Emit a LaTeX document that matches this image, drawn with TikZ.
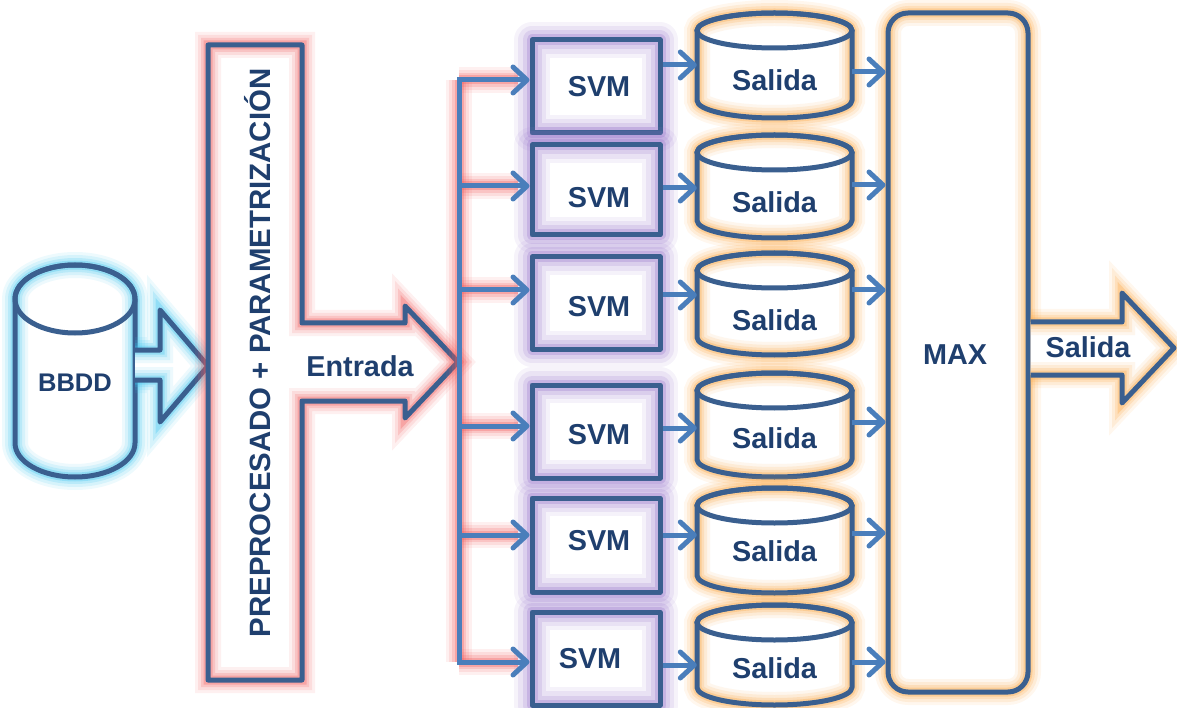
\documentclass[tikz,border=0pt]{standalone}
\usepackage{fontspec}
\setmainfont{Liberation Sans}
\usetikzlibrary{arrows.meta}

\definecolor{frame}{HTML}{3A5F8F}
\definecolor{wire}{HTML}{4A7EBB}
\definecolor{ink}{HTML}{1F3F6E}
\definecolor{glowcyan}{HTML}{3CC4EE}
\definecolor{glowred}{HTML}{F05A5A}
\definecolor{glowpurple}{HTML}{9A78CC}
\definecolor{gloworange}{HTML}{FBA540}

\tikzset{
  halo/.style={
    preaction={draw=#1, draw opacity=.09, line width=26pt},
    preaction={draw=#1, draw opacity=.13, line width=20pt},
    preaction={draw=#1, draw opacity=.19, line width=14pt},
    preaction={draw=#1, draw opacity=.30, line width=9pt}},
  widehalo/.style={
    preaction={draw=#1, draw opacity=.09, line width=36pt},
    preaction={draw=#1, draw opacity=.13, line width=28pt},
    preaction={draw=#1, draw opacity=.19, line width=19pt},
    preaction={draw=#1, draw opacity=.30, line width=11pt}},
  solid shape/.style={line join=round, preaction={fill=white}, halo=#1,
    draw=frame, line width=5pt},
  svm box/.style={line join=round, preaction={fill=white}, widehalo=#1,
    draw=frame, line width=5pt, minimum width=128pt, minimum height=92pt,
    inner sep=0pt},
  frame line/.style={draw=frame, line width=5pt},
  label text/.style={text=ink, inner sep=0pt,
    font=\bfseries\fontsize{28.8}{30}\selectfont},
  bus line/.style={draw=wire, line width=5pt, line cap=rect},
  link/.style={draw=wire, line width=5pt,
    -{Straight Barb[length=14pt,width=26pt,round]}},
}

% Cylinder: #1 name, #2 centre x, #3 top y, #4 bottom y, #5 x radius,
% #6 y radius, #7 halo colour, #8 text, #9 text y
\newcommand\drum[9]{%
  \path[solid shape=#7]
    ({#2-#5},{#3+#6}) -- ({#2-#5},{#4-#6})
    .. controls ({#2-#5},{#4-0.4477*#6}) and ({#2-0.5523*#5},{#4}) .. ({#2},{#4})
    .. controls ({#2+0.5523*#5},{#4}) and ({#2+#5},{#4-0.4477*#6}) .. ({#2+#5},{#4-#6})
    -- ({#2+#5},{#3+#6})
    .. controls ({#2+#5},{#3+0.4477*#6}) and ({#2+0.5523*#5},{#3}) .. ({#2},{#3})
    .. controls ({#2-0.5523*#5},{#3}) and ({#2-#5},{#3+0.4477*#6}) .. cycle;
  \draw[frame line] ({#2},{#3+#6}) ellipse [x radius=#5, y radius=#6];
  \node[inner sep=0pt, minimum width={2*#5}, minimum height={#4-#3}]
    (#1) at ({#2},{(#3+#4)/2}) {};
  \node[label text] at ({#2},{#9}) {#8};
}

\begin{document}
\begin{tikzpicture}[x=1pt, y=-1pt]
\useasboundingbox (0,0) rectangle (1177,708);

% database and its block arrow
\drum{bbdd}{75}{265}{477}{60}{34}{glowcyan}{\fontsize{25.5}{26}\selectfont BBDD}{383}
\path[solid shape=glowcyan]
  (bbdd.east |- 0,350) -- (160,350) -- (160,310) -- (208,366)
  -- (160,422) -- (160,380) -- (bbdd.east |- 0,380);

% pre-processing block with the input arrow
\path[solid shape=glowred]
  (208,45) -- (302,45) -- (302,323) -- (405,323) -- (405,306)
  -- (458,362) coordinate (feed) -- (405,418) -- (405,401) -- (302,401)
  -- (302,680) -- (208,680) -- cycle;
\node[label text, rotate=90, font=\bfseries\fontsize{29.4}{30}\selectfont]
  at (258,353) {PREPROCESADO + PARAMETRIZACIÓN};
\node[label text] at (360,366) {Entrada};

% classifiers
\node[svm box=glowpurple, minimum height=93pt] (svm1) at (596,86.5) {};
\node[svm box=glowpurple, minimum height=90pt] (svm2) at (596,190) {};
\node[svm box=glowpurple] (svm3) at (596,303) {};
\node[svm box=glowpurple, minimum height=93pt] (svm4) at (596,431.5) {};
\node[svm box=glowpurple, minimum height=94pt] (svm5) at (596,545) {};
\node[svm box=glowpurple, minimum height=93pt] (svm6) at (596,658.5) {};
\node[label text] at (599,87) {SVM};
\node[label text] at (599,198) {SVM};
\node[label text] at (599,307) {SVM};
\node[label text] at (599,435) {SVM};
\node[label text] at (599,541) {SVM};
\node[label text] at (590,659) {SVM};

% distribution bus
\coordinate (b1) at (459,80);
\coordinate (b2) at (459,186);
\coordinate (b3) at (459,290);
\coordinate (b4) at (459,426);
\coordinate (b5) at (459,535);
\coordinate (b6) at (459,662);
\path[halo=glowred, line cap=round] (b1) -- (b6);
\foreach \i in {1,...,6}
  \path[halo=glowred, line cap=round] (b\i) -- ([xshift=-12pt]svm\i.west |- b\i);
\draw[bus line] (b1) -- (b6);
\foreach \i in {1,...,6}
  \draw[link] (b\i) -- (svm\i.west |- b\i);

% classifier outputs
\drum{out1}{774.5}{13}{118}{77.5}{17.5}{gloworange}{Salida}{80}
\drum{out2}{774.5}{135}{238}{77.5}{17.5}{gloworange}{Salida}{202}
\drum{out3}{774.5}{253}{355}{77.5}{17.5}{gloworange}{Salida}{320}
\drum{out4}{774.5}{373}{477}{77.5}{17.5}{gloworange}{Salida}{438}
\drum{out5}{774.5}{488}{593}{77.5}{17.5}{gloworange}{Salida}{551}
\drum{out6}{774.5}{605}{705}{77.5}{17.5}{gloworange}{Salida}{668}

\draw[link] (svm1.east |- 0,65)  -- (out1.west |- 0,65);
\draw[link] (svm2.east |- 0,188) -- (out2.west |- 0,188);
\draw[link] (svm3.east |- 0,295) -- (out3.west |- 0,295);
\draw[link] (svm4.east |- 0,428) -- (out4.west |- 0,428);
\draw[link] (svm5.east |- 0,535) -- (out5.west |- 0,535);
\draw[link] (svm6.east |- 0,665) -- (out6.west |- 0,665);

% decision block
\node[solid shape=gloworange, rounded corners=20pt, minimum width=140pt,
  minimum height=679pt, inner sep=0pt] (max) at (958,352.5) {};
\node[label text] at (955,355) {MAX};

\draw[link] (out1.east |- 0,72)  -- (max.west |- 0,72);
\draw[link] (out2.east |- 0,185) -- (max.west |- 0,185);
\draw[link] (out3.east |- 0,290) -- (max.west |- 0,290);
\draw[link] (out4.east |- 0,422) -- (max.west |- 0,422);
\draw[link] (out5.east |- 0,533) -- (max.west |- 0,533);
\draw[link] (out6.east |- 0,662) -- (max.west |- 0,662);

% final output arrow
\path[solid shape=gloworange]
  (max.east |- 0,322) -- (1122,322) -- (1122,293) -- (1174,348)
  -- (1122,403) -- (1122,375) -- (max.east |- 0,375);
\node[label text] at (1088,347) {Salida};
\end{tikzpicture}
\end{document}
